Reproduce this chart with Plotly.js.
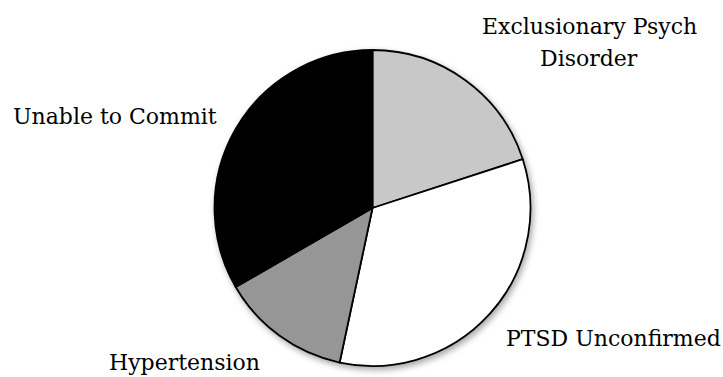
<!DOCTYPE html>
<html>
<head>
<meta charset="utf-8">
<script src="https://cdn.plot.ly/plotly-3.0.1.min.js"></script>
<style>
  html, body { margin: 0; padding: 0; background: #fff; }
  #chart { width: 723px; height: 377px; }
  .pielayer { filter: drop-shadow(2px 3px 3px rgba(0,0,0,0.35)); }
</style>
</head>
<body>
<div id="chart"></div>
<script>
// Reasons for exclusion (counts), clockwise from 12 o'clock
const categories = ['Exclusionary Psych<br>Disorder', 'PTSD Unconfirmed', 'Hypertension', 'Unable to Commit'];
const counts = [6, 10, 4, 10];
const sliceColors = ['#c8c8c8', '#ffffff', '#969696', '#000000'];

// Label anchor points in pixels (centre of each text line)
const labelPos = [
  [[589, 26], [589, 58]],
  [[613, 338]],
  [[185, 362]],
  [[115, 117]]
];

const W = 723, H = 377;
const cx = 372.5, cy = 208, r = 158;

const annotations = [];
categories.forEach(function (label, i) {
  label.split('<br>').forEach(function (line, j) {
    const p = labelPos[i][j];
    annotations.push({
      text: line,
      xref: 'paper', yref: 'paper',
      x: p[0] / W, y: 1 - p[1] / H,
      xanchor: 'center', yanchor: 'middle',
      showarrow: false,
      font: { family: 'DejaVu Serif', size: 22, color: '#000' }
    });
  });
});

const trace = {
  type: 'pie',
  labels: categories,
  values: counts,
  sort: false,
  direction: 'clockwise',
  rotation: 0,
  textinfo: 'none',
  hoverinfo: 'label+value',
  marker: { colors: sliceColors, line: { color: '#000', width: 1.8 } },
  domain: {
    x: [(cx - r) / W, (cx + r) / W],
    y: [1 - (cy + r) / H, 1 - (cy - r) / H]
  }
};

const layout = {
  width: W, height: H,
  margin: { l: 0, r: 0, t: 0, b: 0 },
  showlegend: false,
  paper_bgcolor: '#fff',
  annotations: annotations
};

Plotly.newPlot('chart', [trace], layout, { staticPlot: true });
</script>
</body>
</html>
